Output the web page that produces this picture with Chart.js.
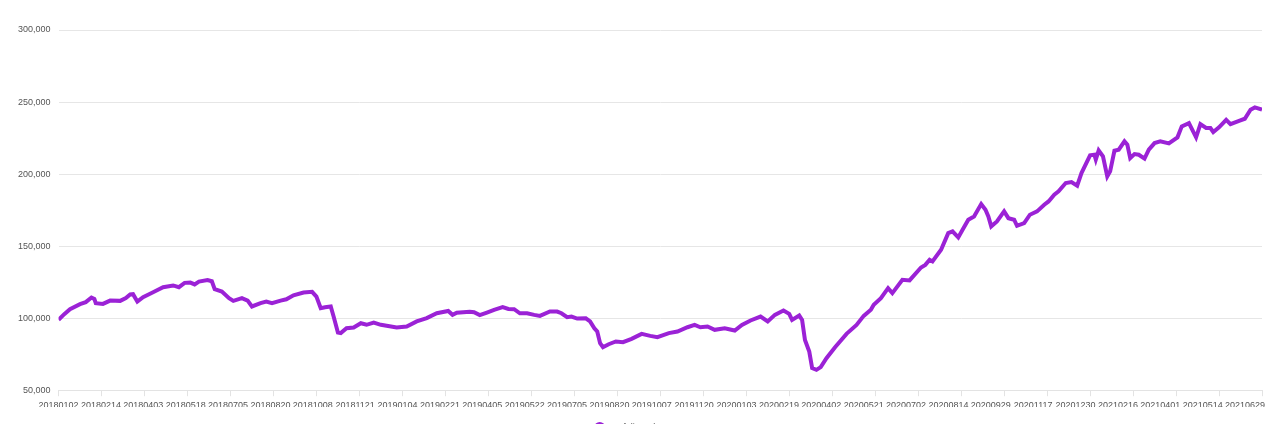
<!DOCTYPE html>
<html>
<head>
<meta charset="utf-8">
<script src="https://cdn.jsdelivr.net/npm/chart.js@4"></script>
<style>
  html, body { margin: 0; padding: 0; background: #fff; overflow: hidden; }
  #wrap { width: 1280px; height: 442px; }
</style>
</head>
<body>
<div id="wrap"><canvas id="valueChart" width="1280" height="442"></canvas></div>
<script>
// x-axis tick labels, one every 30 trading days
const tickLabels = [
  "20180102", "20180214", "20180403", "20180518", "20180705", "20180820",
  "20181008", "20181121", "20190104", "20190221", "20190405", "20190522",
  "20190705", "20190820", "20191007", "20191120", "20200103", "20200219",
  "20200402", "20200521", "20200702", "20200814", "20200929", "20201117",
  "20201230", "20210216", "20210401", "20210514", "20210629",
];

// trading-day index of each reading (0 = 20180102)
const days = [
  0, 4, 8, 15, 19, 23, 25, 26, 31, 36, 43, 47, 50, 52, 55, 59, 66, 73, 80, 84,
  88, 92, 95, 98, 104, 107, 109, 114, 119, 122, 128, 132, 135, 141, 145, 149, 155, 159, 164, 171,
  177, 180, 183, 186, 190, 192, 195, 197, 201, 206, 211, 215, 220, 225, 229, 236, 243, 250, 257, 264,
  272, 275, 278, 287, 290, 294, 299, 304, 310, 314, 318, 322, 327, 332, 336, 343, 348, 351, 355, 358,
  362, 368, 371, 374, 376, 378, 380, 384, 389, 394, 400, 407, 413, 418, 426, 432, 439, 444, 448, 453,
  458, 465, 472, 477, 483, 490, 495, 500, 506, 510, 512, 517, 519, 521, 524, 526, 529, 532, 536, 542,
  550, 557, 562, 567, 569, 574, 579, 582, 589, 594, 602, 605, 608, 610, 616, 621, 624, 628, 631, 635,
  639, 644, 647, 649, 651, 655, 660, 663, 667, 669, 674, 678, 683, 688, 691, 695, 698, 703, 707, 711,
  714, 720, 723, 724, 726, 729, 732, 734, 737, 740, 744, 746, 748, 751, 754, 758, 761, 765, 769, 775,
  781, 784, 789, 794, 797, 801, 804, 806, 810, 815, 818, 824, 828, 832, 835, 840,
];

const values = [
  98800, 102800, 106200, 109700, 111100, 114300, 113400, 110400, 109900, 112200,
  112000, 113900, 116400, 116600, 111500, 114600, 118000, 121500, 122700, 121500,
  124500, 124700, 123400, 125400, 126400, 125600, 120100, 118500, 113900, 112000,
  113900, 112200, 108100, 110400, 111500, 110400, 112200, 113100, 115900, 117800,
  118300, 115000, 106900, 107600, 108100, 101100, 90000, 89600, 93000, 93500,
  96500, 95400, 97000, 95400, 94700, 93500, 94200, 97700, 100000, 103400,
  105000, 102300, 103800, 104500, 104100, 102100, 103900, 105800, 107600, 106400,
  106200, 103400, 103400, 102300, 101600, 104600, 104600, 103400, 100700, 101100,
  99700, 99900, 97700, 93000, 90700, 82600, 79800, 81900, 83800, 83300,
  85600, 89100, 87700, 86800, 89600, 90700, 93700, 95300, 93700, 94200,
  91900, 93000, 91400, 95300, 98400, 101100, 97700, 102300, 105300, 103000,
  98800, 101800, 98800, 84900, 76800, 65300, 64100, 66000, 72200, 79800,
  89100, 95300, 101600, 105800, 109300, 113900, 120800, 117400, 126600, 126200,
  135200, 137000, 140500, 139400, 147500, 159000, 160200, 156000, 161300, 168300,
  170600, 179200, 175200, 170600, 163700, 167100, 174100, 169400, 168300, 164100,
  166000, 171800, 174100, 178700, 181000, 185700, 188000, 193800, 194500, 191900,
  200700, 213000, 213400, 210000, 216400, 212300, 198400, 201900, 216200, 216900,
  222700, 220400, 211100, 213900, 213400, 210700, 216900, 221500, 222700, 221300,
  225500, 233100, 235400, 225500, 234700, 232000, 232000, 229200, 232400, 237700,
  234700, 237000, 238400, 244700, 246300, 244700,
];

const seriesName = "Portfolio Balance";
const lineColor = "#9b22d6";
const lastDay = (tickLabels.length - 1) * 30;

const ctx = document.getElementById("valueChart").getContext("2d");

Chart.defaults.font.family = "'Liberation Sans', Arial, sans-serif";
Chart.defaults.font.size = 9;
Chart.defaults.color = "#555";

const everyThirtyDays = (axis) => {
  axis.ticks = tickLabels.map((_, i) => ({ value: i * 30 }));
};

const valueChart = new Chart(ctx, {
  type: "line",
  data: {
    datasets: [
      {
        label: seriesName,
        data: days.map((d, i) => ({ x: d, y: values[i] })),
        borderColor: lineColor,
        backgroundColor: lineColor,
        borderWidth: 4,
        pointRadius: 0,
        tension: 0,
        fill: false,
      },
    ],
  },
  options: {
    responsive: false,
    animation: false,
    layout: {
      padding: { top: 30, right: 18, left: 10, bottom: 0 },
    },
    plugins: {
      legend: {
        position: "bottom",
        // blank title just pushes the legend row down a bit
        title: { display: true, text: " ", padding: 0, font: { size: 5 } },
        labels: {
          usePointStyle: true,
          pointStyle: "circle",
          boxWidth: 5,
          boxHeight: 5,
          padding: 10,
        },
      },
      tooltip: { enabled: false },
    },
    scales: {
      // tick marks along the bottom edge
      x: {
        type: "linear",
        min: 0,
        max: lastDay,
        weight: 0,
        afterBuildTicks: everyThirtyDays,
        afterFit: (axis) => {
          axis.paddingRight = 0;
        },
        ticks: { display: false, autoSkip: false },
        grid: {
          drawOnChartArea: false,
          drawTicks: true,
          tickLength: 6,
          color: "#e3e3e3",
        },
        border: { color: "#e3e3e3" },
      },
      // date labels, drawn a little tighter than the tick marks as in the original
      xLabels: {
        type: "linear",
        position: "bottom",
        min: 0,
        max: 852,
        weight: 1,
        afterBuildTicks: everyThirtyDays,
        afterFit: (axis) => {
          axis.paddingRight = 0;
        },
        ticks: {
          autoSkip: false,
          maxRotation: 0,
          padding: -4,
          callback: (value) => tickLabels[Math.round(value / 30)],
        },
        grid: { display: false },
        border: { display: false },
      },
      y: {
        min: 50000,
        max: 300000,
        ticks: {
          stepSize: 50000,
          padding: 8,
          callback: (value) => value.toLocaleString("en-US"),
        },
        grid: {
          drawTicks: false,
          color: "#e6e6e6",
        },
        border: { display: false },
      },
    },
  },
});
</script>
</body>
</html>
